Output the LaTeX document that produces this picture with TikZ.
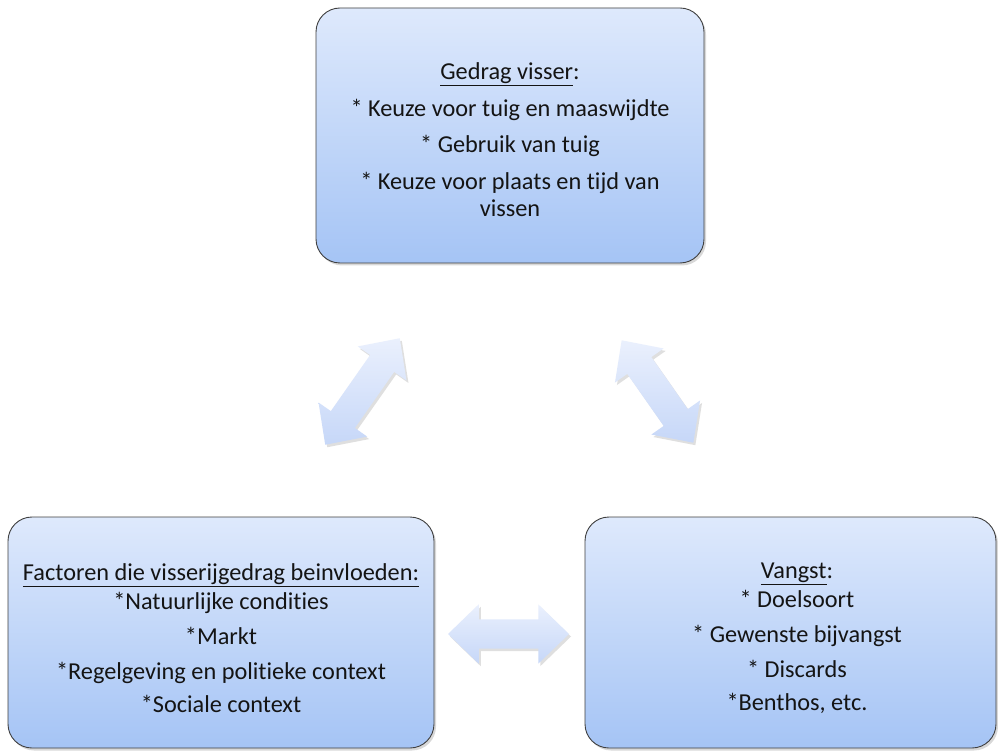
\documentclass[tikz,border=0pt]{standalone}
\usepackage{fontspec}
\setmainfont{Carlito}[Ligatures={NoCommon}]
\usetikzlibrary{shapes.arrows,shadows,shadings}
\definecolor{boxtop}{RGB}{222,233,252}
\definecolor{boxbot}{RGB}{165,196,245}
\definecolor{arrtop}{RGB}{234,240,253}
\definecolor{arrbot}{RGB}{198,215,248}
\definecolor{edge}{RGB}{64,64,64}
\definecolor{txt}{RGB}{20,20,20}
\tikzset{
  infobox/.style={draw=edge, line width=0.9pt, rounded corners=24pt,
    top color=boxtop, bottom color=boxbot, inner sep=0pt,
    drop shadow={shadow xshift=2pt, shadow yshift=-2.5pt, opacity=0.3}},
  boxtext/.style={align=center, text=txt, inner sep=0pt,
    font=\fontsize{24.3}{27}\selectfont},
  blockarrow/.style={double arrow, draw=none, top color=arrtop, bottom color=arrbot,
    minimum height=#1, double arrow head extend=15pt,
    double arrow tip angle=88, inner sep=0pt, text width=0pt,
    text height=14.5pt, text depth=14.5pt,
    drop shadow={shadow xshift=2pt, shadow yshift=-2.5pt, opacity=0.25}},
}
\begin{document}
\begin{tikzpicture}[x=1pt,y=-1pt]
\useasboundingbox[fill=white] (0,0) rectangle (998,751);
\node[infobox, minimum width=388pt, minimum height=255pt] (gedrag) at (510,135.5) {};
\node[boxtext] (gedragtext) at ([yshift=-4.5pt]gedrag.center)
  {\underline{Gedrag visser}:\\[10pt]
   * Keuze voor tuig en maaswijdte\\[9pt]
   * Gebruik van tuig\\[10pt]
   * Keuze voor plaats en tijd van\\
   vissen};
\node[infobox, minimum width=426pt, minimum height=231pt] (factoren) at (221,632.5) {};
\node[boxtext] (factorentext) at ([yshift=-6pt]factoren.center)
  {\underline{Factoren die visserijgedrag beinvloeden:}\\[2pt]
   *Natuurlijke condities\\[8pt]
   *Markt\\[8pt]
   *Regelgeving en politieke context\\[6pt]
   *Sociale context};
\node[infobox, minimum width=411pt, minimum height=231pt] (vangst) at (790.5,632.5) {};
\node[boxtext] (vangsttext) at ([xshift=6.5pt,yshift=-6pt]vangst.center)
  {\underline{Vangst}:\\[2pt]
   * Doelsoort\\[8pt]
   * Gewenste bijvangst\\[8pt]
   * Discards\\[6pt]
   *Benthos, etc.};
\node[blockarrow=130pt, rotate=55] (a1) at (362.5,391.5) {};
\node[blockarrow=125pt, rotate=-55] (a2) at (657.5,391.5) {};
\node[blockarrow=121pt] (a3) at (508.5,634) {};
\end{tikzpicture}
\end{document}
